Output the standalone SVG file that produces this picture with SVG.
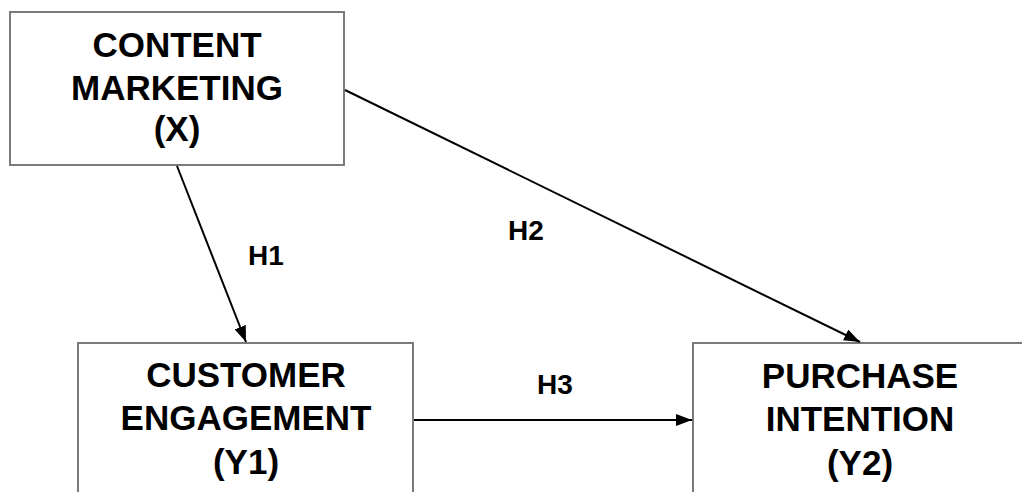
<svg xmlns="http://www.w3.org/2000/svg" width="1022" height="492" viewBox="0 0 1022 492">
  <style>
    .box { fill: #ffffff; stroke: #7a7a7a; stroke-width: 2; }
    .title { font-family: "Liberation Sans", Arial, sans-serif; font-weight: bold; font-size: 35px; fill: #000; text-anchor: middle; }
    .lbl { font-family: "Liberation Sans", Arial, sans-serif; font-weight: bold; font-size: 28px; fill: #000; }
    .edge { stroke: #000; stroke-width: 2; fill: none; marker-end: url(#arrow); }
  </style>
  <defs>
    <marker id="arrow" markerUnits="userSpaceOnUse" markerWidth="16" markerHeight="12" refX="16" refY="6" orient="auto">
      <path d="M0,0 L16,6 L0,12 Z" fill="#000"/>
    </marker>
  </defs>
  <rect x="0" y="0" width="1022" height="492" fill="#ffffff"/>

  <g id="node-content-marketing">
    <rect class="box" x="10" y="12" width="334" height="153"/>
    <text class="title" x="177" y="57">CONTENT</text>
    <text class="title" x="177" y="100">MARKETING</text>
    <text class="title" x="177" y="141">(X)</text>
  </g>

  <g id="node-customer-engagement">
    <rect class="box" x="78" y="343" width="335" height="200"/>
    <text class="title" x="246" y="387">CUSTOMER</text>
    <text class="title" x="246" y="430">ENGAGEMENT</text>
    <text class="title" x="246" y="474">(Y1)</text>
  </g>

  <g id="node-purchase-intention">
    <rect class="box" x="693" y="343" width="340" height="200"/>
    <text class="title" x="860" y="388">PURCHASE</text>
    <text class="title" x="860" y="431">INTENTION</text>
    <text class="title" x="860" y="475">(Y2)</text>
  </g>

  <g id="connectors">
    <line class="edge" x1="177" y1="166" x2="246" y2="342"/>
    <line class="edge" x1="345" y1="90" x2="860" y2="342"/>
    <line class="edge" x1="414" y1="420" x2="692" y2="420"/>
    <text class="lbl" x="248" y="265">H1</text>
    <text class="lbl" x="508" y="240">H2</text>
    <text class="lbl" x="537" y="394">H3</text>
  </g>
</svg>
